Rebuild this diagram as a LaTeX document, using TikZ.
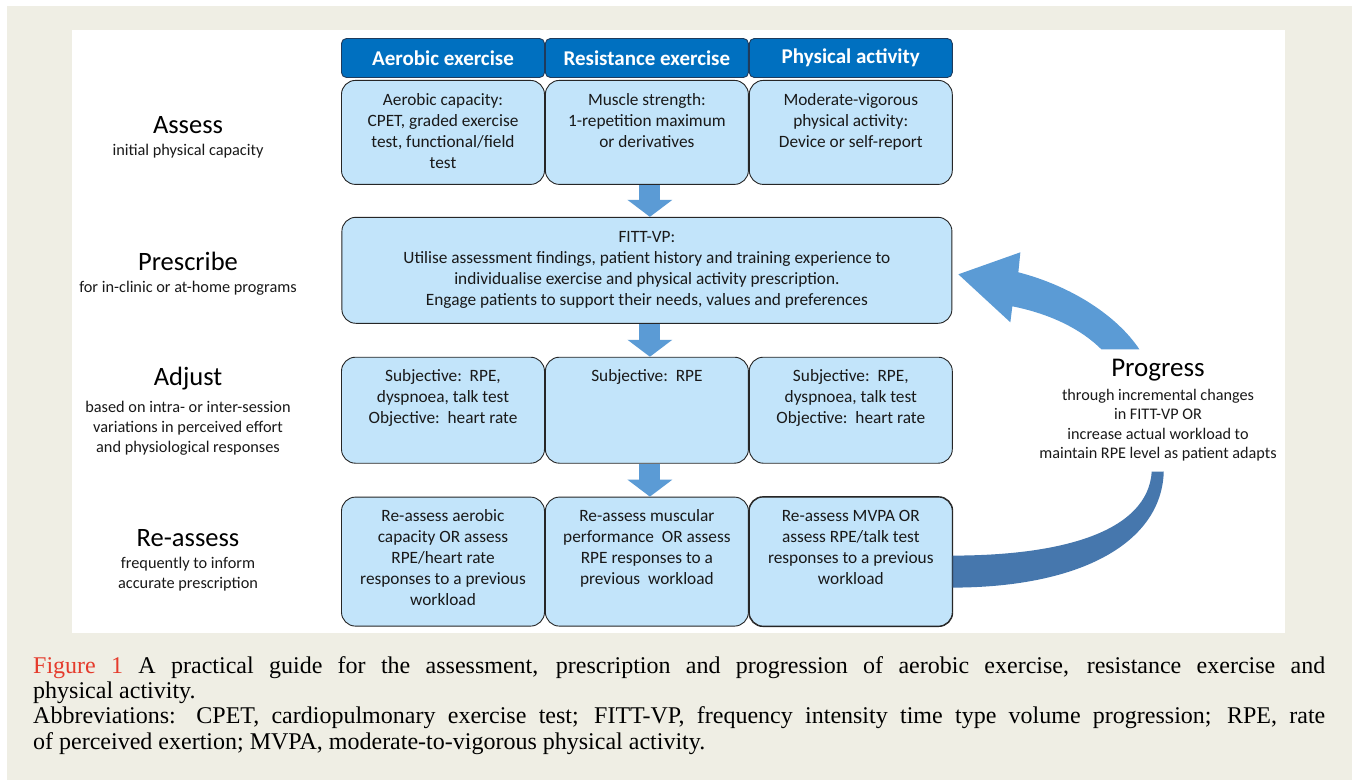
\documentclass[tikz,border=0pt]{standalone}
\usepackage{fontspec}
\setmainfont{Liberation Serif}
\newfontfamily\dgfont{Carlito}
\usetikzlibrary{positioning,arrows.meta}

\definecolor{pagebeige}{HTML}{EFEEE4}
\definecolor{hdrblue}{HTML}{0070C0}
\definecolor{hdrline}{HTML}{1F3B5C}
\definecolor{cellblue}{HTML}{C2E4FA}
\definecolor{arrblue}{HTML}{5B9BD5}
\definecolor{arrdark}{HTML}{4677AD}
\definecolor{figred}{HTML}{E53B2C}

% top-aligned text inside a cell of fixed height
\newcommand{\celltext}[3][190pt]{\parbox[c][#2][t]{#1}{\centering\strut #3}}

\begin{document}
\begin{tikzpicture}[
    x=1pt, y=-1pt,
    hdr/.style = {draw=hdrline, fill=hdrblue, rounded corners=5pt, line width=0.9pt,
                  minimum width=203pt, minimum height=39pt, text=white,
                  font=\dgfont\bfseries\fontsize{21}{23}\selectfont},
    cell/.style = {draw=black!85, fill=cellblue, rounded corners=14pt, line width=0.9pt,
                   minimum width=203pt, inner xsep=6.5pt, inner ysep=10pt,
                   font=\dgfont\fontsize{17.3}{21}\selectfont, text=black!90},
    steplbl/.style = {align=center, font=\dgfont\fontsize{16.3}{20}\selectfont, text=black!90},
    bigword/.style = {font=\dgfont\fontsize{26.5}{28}\selectfont},
    blockarr/.style = {arrblue, line width=21pt, -{Triangle[width=44pt,length=17pt]}},
    node distance = 0pt
  ]
  \useasboundingbox (0,0) rectangle (1352,780);
  \fill[pagebeige] (7,6) rectangle (1352,780);
  \fill[white] (72,30) rectangle (1285,633);

  % column headers
  \node[hdr] (h1) at (443,58) {Aerobic exercise};
  \node[hdr,right=of h1] (h2) {Resistance exercise};
  \node[hdr,right=of h2] (h3) {Physical activity};

  % assess row
  \node[cell,below=2pt of h1] (as1) {\celltext{84pt}{Aerobic capacity:\\CPET, graded exercise\\test, functional/field\\test}};
  \node[cell,below=2pt of h2] (as2) {\celltext{84pt}{Muscle strength:\\1-repetition maximum\\or derivatives}};
  \node[cell,below=2pt of h3] (as3) {\celltext{84pt}{Moderate-vigorous\\physical activity:\\Device or self-report}};

  % prescribe row
  \node[cell,minimum width=610pt,below=32pt of as2] (pr) {\celltext[590pt]{86pt}{FITT-VP:\\Utilise assessment findings, patient history and training experience to\\individualise exercise and physical activity prescription.\\Engage patients to support their needs, values and preferences}};

  \draw[blockarr] ([xshift=3pt]as2.south) -- ([xshift=3pt]pr.north);

  % adjust row
  \node[cell,below=33pt of pr] (ad2) {\celltext{86pt}{Subjective:\ \ RPE}};
  \node[cell,left=of ad2] (ad1) {\celltext{86pt}{Subjective:\ \ RPE,\\dyspnoea, talk test\\Objective:\ \ heart rate}};
  \node[cell,right=of ad2] (ad3) {\celltext{86pt}{Subjective:\ \ RPE,\\dyspnoea, talk test\\Objective:\ \ heart rate}};

  % re-assess row
  \node[cell,below=33pt of ad2] (ra2) {\celltext{109pt}{Re-assess muscular\\performance\ \ OR assess\\RPE responses to a\\previous\ \ workload}};
  \node[cell,left=of ra2] (ra1) {\celltext{109pt}{Re-assess aerobic\\capacity OR assess\\RPE/heart rate\\responses to a previous\\workload}};
  \node[cell,right=of ra2] (ra3) {\celltext{109pt}{Re-assess MVPA OR\\assess RPE/talk test\\responses to a previous\\workload}};

  \draw[blockarr] ([xshift=3pt]pr.south) -- ([xshift=3pt]ad2.north);
  \draw[blockarr] ([xshift=3pt]ad2.south) -- ([xshift=3pt]ra2.north);

  % curved progress arrows
  \begin{scope}[shift={(pr.east)}]
    \fill[arrblue] (6,4) -- (68,-18) -- (66,2)
      .. controls (120,16) and (165,46) .. (187,79) -- (149,79)
      .. controls (130,60) and (100,44) .. (60,36) -- (58,52) -- cycle;
  \end{scope}
  \begin{scope}[shift={(ra3.east)}]
    \fill[arrdark] (211,-90) .. controls (209,-20) and (130,26) .. (-1,26)
      -- (-1,-6) .. controls (110,-6) and (195,-30) .. (199,-90) -- cycle;
  \end{scope}
  \draw[draw=black!85, line width=0.9pt, rounded corners=14pt]
    (ra3.north east) rectangle (ra3.south west);

  % step labels
  \node[bigword] (s1) at (188,125) {Assess};
  \node[steplbl,below=4pt of s1] (s1t) {initial physical capacity};
  \node[bigword] (s2) at (188,261) {Prescribe};
  \node[steplbl,below=4pt of s2] (s2t) {for in-clinic or at-home programs};
  \node[bigword] (s3) at (188,379) {Adjust};
  \node[steplbl,below=4pt of s3] (s3t) {based on intra- or inter-session\\variations in perceived effort\\and physiological responses};
  \node[bigword] (s4) at (188,538) {Re-assess};
  \node[steplbl,below=4pt of s4] (s4t) {frequently to inform\\accurate prescription};

  \node[bigword,font=\dgfont\fontsize{27}{28}\selectfont] (pg) at (1158,370) {Progress};
  \node[steplbl,below=1pt of pg,font=\dgfont\fontsize{16.2}{19.4}\selectfont] (pgt)
    {through incremental changes\\in FITT-VP OR\\increase actual workload to\\maintain RPE level as patient adapts};

  % caption
  \node[anchor=north west, inner sep=0pt, text width=1292pt, align=justify,
        font=\fontsize{24}{25.3}\selectfont] (cap) at (33,656)
    {{\color{figred}Figure 1} A practical guide for the assessment, prescription and progression of aerobic exercise, resistance exercise and\linebreak physical activity.\\
     Abbreviations: CPET, cardiopulmonary exercise test; FITT-VP, frequency intensity time type volume progression; RPE, rate\linebreak of perceived exertion; MVPA, moderate-to-vigorous physical activity.};
\end{tikzpicture}
\end{document}
